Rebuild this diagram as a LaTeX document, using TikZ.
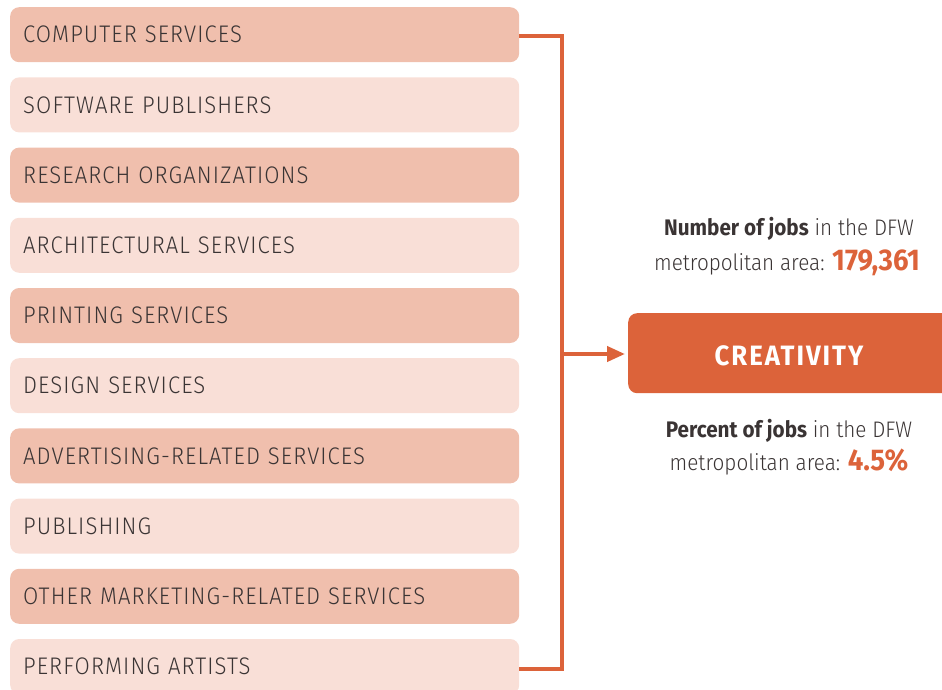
\documentclass[tikz,border=0pt]{standalone}
\usepackage{fontspec}
\setmainfont{Fira Sans}[UprightFont={* Light},BoldFont={* Bold},FakeStretch=0.92]
\usetikzlibrary{arrows.meta}
\definecolor{darkbox}{HTML}{F0BFAD}
\definecolor{lightbox}{HTML}{F9DFD7}
\definecolor{accent}{HTML}{DC633A}
\definecolor{txt}{HTML}{3A3434}
\tikzset{
  item/.style={anchor=north west, rounded corners=9pt, minimum width=509pt, minimum height=55pt,
    text width=483pt, inner xsep=13pt, align=left, text height=16.5pt, text depth=0pt,
    font=\fontsize{24}{24}\selectfont\addfontfeatures{LetterSpace=4.5}, text=txt},
  dk/.style={item, fill=darkbox},
  lt/.style={item, fill=lightbox},
  bus/.style={draw=accent, line width=4pt},
  info/.style={anchor=base, text=txt, font=\fontsize{22.5}{22.5}\selectfont, inner sep=0pt},
}
\begin{document}
\begin{tikzpicture}[x=1pt,y=-1pt]
\clip (0,0) rectangle (942,690);
\node[dk] (b1) at (10,7) {COMPUTER SERVICES};
\node[lt] (b2) at (10,77.2) {SOFTWARE PUBLISHERS};
\node[dk] (b3) at (10,147.4) {RESEARCH ORGANIZATIONS};
\node[lt] (b4) at (10,217.6) {ARCHITECTURAL SERVICES};
\node[dk] (b5) at (10,287.8) {PRINTING SERVICES};
\node[lt] (b6) at (10,358) {DESIGN SERVICES};
\node[dk] (b7) at (10,428.2) {ADVERTISING-RELATED SERVICES};
\node[lt] (b8) at (10,498.4) {PUBLISHING};
\node[dk] (b9) at (10,568.6) {OTHER MARKETING-RELATED SERVICES};
\node[lt] (b10) at (10,638.8) {PERFORMING ARTISTS};

\node[anchor=north west, fill=accent, rounded corners=9pt, minimum width=330pt, minimum height=80pt] (cr) at (628,313) {};
\node[anchor=base, text=white, inner sep=0pt, font=\fontsize{28}{28}\bfseries\selectfont\addfontfeatures{LetterSpace=7}] (crt) at (789,365) {CREATIVITY};

\coordinate (jt) at (562,36.5);
\coordinate (jb) at (562,669);
\coordinate (jm) at (562,354);
\draw[bus] (b1.east|-jt) -- (jt) -- (jb) -- (b10.east|-jb);
\draw[bus, -{Triangle[length=18pt,width=15pt]}] (jm) -- ([xshift=-3pt]cr.west|-jm);

\node[info] (n1) at (789,235) {\textbf{Number of jobs} in the DFW};
\node[info] (n2) at (787,270) {metropolitan area: {\fontsize{30}{30}\selectfont\bfseries\color{accent}179,361}};
\node[info] (p1) at (789,437) {\textbf{Percent of jobs} in the DFW};
\node[info] (p2) at (789,470) {metropolitan area: {\fontsize{30}{30}\selectfont\bfseries\color{accent}4.5\%}};
\end{tikzpicture}
\end{document}
